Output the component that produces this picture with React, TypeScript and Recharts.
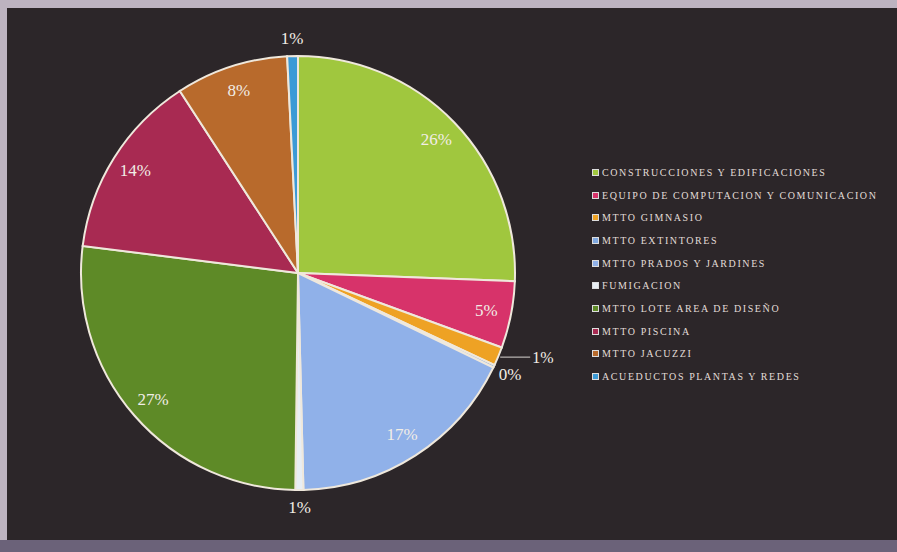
import { PieChart, Pie, Cell, Legend } from 'recharts';

// gastos por rubro (porcentaje aproximado)
const categories = [
  'CONSTRUCCIONES Y EDIFICACIONES',
  'EQUIPO DE COMPUTACION Y COMUNICACION',
  'MTTO GIMNASIO',
  'MTTO EXTINTORES',
  'MTTO PRADOS Y JARDINES',
  'FUMIGACION',
  'MTTO LOTE AREA DE DISEÑO',
  'MTTO PISCINA',
  'MTTO JACUZZI',
  'ACUEDUCTOS PLANTAS Y REDES',
];
const values = [25.7, 5.0, 1.4, 0.2, 17.5, 0.6, 26.9, 13.9, 8.4, 0.8];
const colors = [
  '#a0c73e', '#d7336a', '#eea224', '#7fa8e0', '#90b1e9',
  '#e8eef4', '#5e8a27', '#a82a52', '#b86a2c', '#3b9ad6',
];
// slices whose label sits to the side with a short leader line
const leaderLabels = ['MTTO GIMNASIO'];

const data = categories.map((name, i) => ({ name, value: values[i] }));

const RADIAN = Math.PI / 180;
const labelFont = '"Liberation Serif", "Times New Roman", serif';

const renderLabel = (props: any) => {
  const { cx, cy, midAngle, outerRadius, percent, index } = props;
  const text = `${Math.round(percent * 100)}%`;
  const cos = Math.cos(-midAngle * RADIAN);
  const sin = Math.sin(-midAngle * RADIAN);

  if (leaderLabels.includes(categories[index])) {
    const ex = cx + (outerRadius + 2) * cos;
    const ey = cy + (outerRadius + 2) * sin;
    return (
      <g>
        <path d={`M${ex},${ey}L${ex + 30},${ey}`} stroke="#d8d4d0" strokeWidth={1} fill="none" />
        <text x={ex + 32} y={ey} fill="#f2ede6" fontSize={16} fontFamily={labelFont}
          textAnchor="start" dominantBaseline="central">{text}</text>
      </g>
    );
  }

  const r = percent >= 0.03 ? outerRadius * 0.885 : outerRadius + 18;
  return (
    <text x={cx + r * cos} y={cy + r * sin} fill="#f2ede6" fontSize={17} fontFamily={labelFont}
      textAnchor="middle" dominantBaseline="central">{text}</text>
  );
};

const renderLegend = () => (
  <div style={{ fontFamily: labelFont, fontSize: 10, letterSpacing: 1.6, color: '#e2ddd8' }}>
    {categories.map((name, i) => (
      <div key={name} style={{ display: 'flex', alignItems: 'center', height: 22.7, whiteSpace: 'nowrap' }}>
        <span style={{ width: 7, height: 7, background: colors[i], border: '1px solid #ddd', marginRight: 3, boxSizing: 'border-box', flexShrink: 0 }} />
        <span>{name}</span>
      </div>
    ))}
  </div>
);

export default function App() {
  return (
    <div style={{ position: 'absolute', left: 0, top: 0, width: 897, height: 552, background: '#bdb3c0' }}>
      <div style={{ position: 'absolute', left: 7, top: 8, width: 890, height: 532, background: '#2c2629' }} />
      <div style={{ position: 'absolute', left: 0, top: 540, width: 897, height: 12, background: '#6b6279' }} />
      <div style={{ position: 'absolute', left: 0, top: 0 }}>
        <PieChart width={897} height={552} margin={{ top: 0, right: 0, bottom: 0, left: 0 }}>
          <Pie
            data={data}
            dataKey="value"
            nameKey="name"
            cx={298}
            cy={273}
            outerRadius={217}
            startAngle={90}
            endAngle={-270}
            stroke="#efe8dc"
            strokeWidth={2}
            label={renderLabel}
            labelLine={false}
            isAnimationActive={false}
          >
            {data.map((d, i) => (
              <Cell key={d.name} fill={colors[i]} />
            ))}
          </Pie>
          <Legend
            layout="vertical"
            content={renderLegend}
            wrapperStyle={{ position: 'absolute', left: 592, top: 161, width: 300 }}
          />
        </PieChart>
      </div>
    </div>
  );
}
